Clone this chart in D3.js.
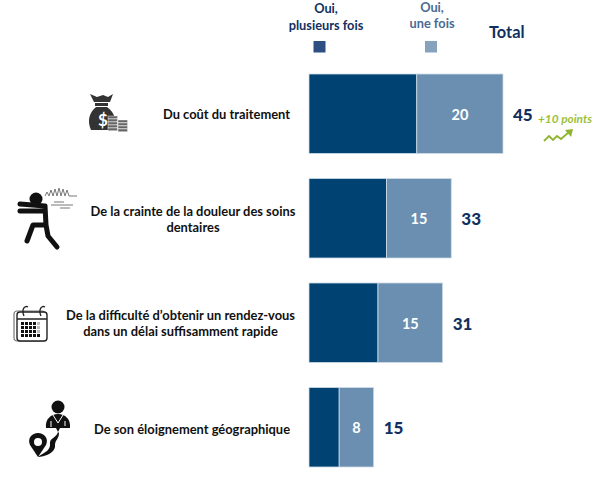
<!DOCTYPE html>
<html>
<head>
  <meta charset="utf-8">
  <style>
    html, body { margin: 0; padding: 0; background: #fff; }
    svg { display: block; }
    text { font-family: Lato, "Open Sans", sans-serif; font-weight: 700; }
  </style>
  <script src="https://d3js.org/d3.v7.min.js"></script>
</head>
<body>
  <script>
    // values
    var categories = [
      ["Du coût du traitement"],
      ["De la crainte de la douleur des soins", "dentaires"],
      ["De la difficulté d’obtenir un rendez-vous", "dans un délai suffisamment rapide"],
      ["De son éloignement géographique"]
    ];
    var plusieursFois = [25, 18, 16, 7];
    var uneFois = [20, 15, 15, 8];
    var totals = [45, 33, 31, 15];
    var seriesNames = ["plusieurs", "une"];
    var seriesColors = ["#004373", "#6a8fb0"];

    var width = 600, height = 483;

    var svg = d3.select("body").append("svg")
      .attr("width", width)
      .attr("height", height);

    var x = d3.scaleLinear().domain([0, 45]).range([309, 503]);
    var y = d3.scaleBand().domain(d3.range(4)).range([74, 467]).paddingInner(0.239);

    var rows = categories.map(function(c, i) {
      return { i: i, plusieurs: plusieursFois[i], une: uneFois[i] };
    });
    var stacked = d3.stack().keys(seriesNames)(rows);

    // bars
    svg.selectAll("g.serie")
      .data(stacked)
      .enter().append("g")
        .attr("class", "serie")
        .attr("fill", function(d, i) { return seriesColors[i]; })
      .selectAll("rect")
      .data(function(d) { return d; })
      .enter().append("rect")
        .attr("x", function(d) { return x(d[0]); })
        .attr("y", function(d) { return y(d.data.i); })
        .attr("width", function(d) { return x(d[1]) - x(d[0]); })
        .attr("height", y.bandwidth())
        .attr("stroke", "#cfdce8")
        .attr("stroke-width", 0.8);

    // values inside the light bars
    svg.selectAll("text.val")
      .data(stacked[1])
      .enter().append("text")
        .attr("class", "val")
        .attr("x", function(d) { return (x(d[0]) + x(d[1])) / 2; })
        .attr("y", function(d) { return y(d.data.i) + y.bandwidth() / 2 + 1; })
        .attr("dy", "0.36em")
        .attr("text-anchor", "middle")
        .attr("fill", "#fff")
        .attr("font-size", 14.5)
        .text(function(d) { return d[1] - d[0]; });

    // totals
    svg.selectAll("text.total")
      .data(totals)
      .enter().append("text")
        .attr("class", "total")
        .attr("x", function(d) { return x(d) + 10; })
        .attr("y", function(d, i) { return y(i) + y.bandwidth() / 2 + 1; })
        .attr("dy", "0.36em")
        .attr("fill", "#12305f")
        .attr("font-size", 17)
        .style("font-weight", 900)
        .text(function(d) { return d; });

    // row labels
    svg.selectAll("text.cat")
      .data(categories)
      .enter().append("text")
        .attr("class", "cat")
        .attr("text-anchor", "middle")
        .attr("fill", "#111")
        .attr("font-size", 12.9)
        .each(function(lines, i) {
          var cx = [226.5, 193, 180.5, 192][i];
          var cy = y(i) + y.bandwidth() / 2 + [1, 1, 1, 2][i];
          var t = d3.select(this);
          lines.forEach(function(l, j) {
            t.append("tspan")
              .attr("x", cx)
              .attr("y", cy + 4.5 + (j - (lines.length - 1) / 2) * 16.5)
              .text(l);
          });
        });

    // legend
    function legendText(txt, cx, yy, col) {
      svg.append("text").attr("x", cx).attr("y", yy)
        .attr("text-anchor", "middle").attr("fill", col)
        .attr("font-size", 12.8).text(txt);
    }
    legendText("Oui,", 326, 13, "#12305f");
    legendText("plusieurs fois", 326, 30, "#12305f");
    legendText("Oui,", 432, 12, "#4a6a94");
    legendText("une fois", 432, 28, "#4a6a94");
    svg.append("rect").attr("x", 313.5).attr("y", 41).attr("width", 12).attr("height", 11.5).attr("fill", "#2f4f83");
    svg.append("rect").attr("x", 425).attr("y", 41).attr("width", 12).attr("height", 11.5).attr("fill", "#85a3bf");
    svg.append("text").attr("x", 489).attr("y", 38).attr("fill", "#12305f").attr("font-size", 16.4).text("Total");

    // +10 points note and its little arrow
    svg.append("text").attr("x", 538).attr("y", 123)
      .attr("fill", "#9bbf3b").attr("font-size", 11.8).attr("font-style", "italic")
      .attr("textLength", 54).attr("lengthAdjust", "spacingAndGlyphs")
      .text("+10 points");
    var note = svg.append("g").attr("transform", "translate(544,130)");
    note.append("path").attr("d", "M0,11 L5,6 L9,10 L13,6 L17,9 L25,2")
      .attr("fill", "none").attr("stroke", "#8fb52f").attr("stroke-width", 1.8);
    note.append("path").attr("d", "M21,0 L29,-1 L27,7 Z").attr("fill", "#8fb52f");

    // icons
    var bag = svg.append("g").attr("transform", "translate(89,94)").attr("fill", "#333");
    bag.append("path").attr("d", "M1,0 L8,3 L14,1 L19,3 L24,0 L21,8 L5,8 Z");
    bag.append("rect").attr("x", 6).attr("y", 9).attr("width", 13).attr("height", 3);
    bag.append("path").attr("d", "M7,13 L18,13 C26,19 28,27 26,36 L2,36 C-2,27 0,19 7,13 Z");
    bag.append("text").attr("x", 14).attr("y", 32).attr("text-anchor", "middle")
      .attr("fill", "#fff").attr("font-size", 17).text("$");
    [[19, 22], [19, 25], [19, 28], [19, 31], [19, 34], [29, 26], [29, 29], [29, 32], [29, 35]].forEach(function(c) {
      bag.append("rect").attr("x", c[0]).attr("y", c[1]).attr("width", 9.5).attr("height", 2.8)
        .attr("fill", "#666").attr("stroke", "#fff").attr("stroke-width", 0.4);
    });

    var runner = svg.append("g").attr("transform", "translate(18,187)");
    runner.append("circle").attr("cx", 18).attr("cy", 12).attr("r", 6.5).attr("fill", "#111");
    runner.append("path")
      .attr("d", "M2,17 L27,19 M2,24 L27,24 M27,19 L28,38 L15,38 L9,54 M28,38 L30,49 L39,60")
      .attr("fill", "none").attr("stroke", "#111").attr("stroke-width", 5)
      .attr("stroke-linecap", "round").attr("stroke-linejoin", "round");
    runner.append("path").attr("d", "M27,9 L29,5 L31,9 L33,3 L35,9 L37,2 L39,9 L41,1 L43,9 L45,2 L47,9 L49,3 L51,9 L59,9")
      .attr("fill", "none").attr("stroke", "#777").attr("stroke-width", 1);
    runner.append("path").attr("d", "M36,15 L46,15 M33,18 L55,18 M42,21 L52,21")
      .attr("fill", "none").attr("stroke", "#777").attr("stroke-width", 1);

    var cal = svg.append("g").attr("transform", "translate(13,306)");
    cal.append("rect").attr("x", 1).attr("y", 5).attr("width", 31).attr("height", 30).attr("rx", 3)
      .attr("fill", "#fff").attr("stroke", "#777").attr("stroke-width", 1.2);
    cal.append("rect").attr("x", 4).attr("y", 6).attr("width", 30).attr("height", 29).attr("rx", 3)
      .attr("fill", "#fff").attr("stroke", "#222").attr("stroke-width", 1.4);
    cal.append("path").attr("d", "M11,10 C8,3 12,-1 15,1 M28,10 C25,3 29,-1 32,1 M4,13 L34,13")
      .attr("fill", "none").attr("stroke", "#222").attr("stroke-width", 1.3);
    d3.range(4).forEach(function(r) {
      d3.range(5).forEach(function(c) {
        cal.append("rect").attr("x", 8 + c * 4).attr("y", 16 + r * 4).attr("width", 3).attr("height", 3)
          .attr("fill", c == 4 && r < 3 ? "#bbb" : "#111");
      });
    });

    var doc = svg.append("g").attr("transform", "translate(29,401)").attr("fill", "#111");
    doc.append("circle").attr("cx", 29).attr("cy", 6).attr("r", 6.5);
    doc.append("path").attr("d", "M17,27 C16,18 22,13 29,13 C36,13 42,18 41,27 L31,27 L29,31 L27,27 Z");
    doc.append("path").attr("d", "M24,14 L29,22 L34,14 M22,20 L22,26 M36,20 L36,25")
      .attr("fill", "none").attr("stroke", "#fff").attr("stroke-width", 1);
    doc.append("path").attr("d", "M29,31 C27,38 20,36 21,44 C21,50 14,52 9,56 C15,56 27,52 26,44 C26,39 30,38 30,32 Z");
    doc.append("path").attr("d", "M9,56 L1,44 C-2,37 3,32 9,32 C15,32 20,37 17,44 Z");
    doc.append("circle").attr("cx", 9).attr("cy", 41).attr("r", 4).attr("fill", "#fff");
  </script>
</body>
</html>
